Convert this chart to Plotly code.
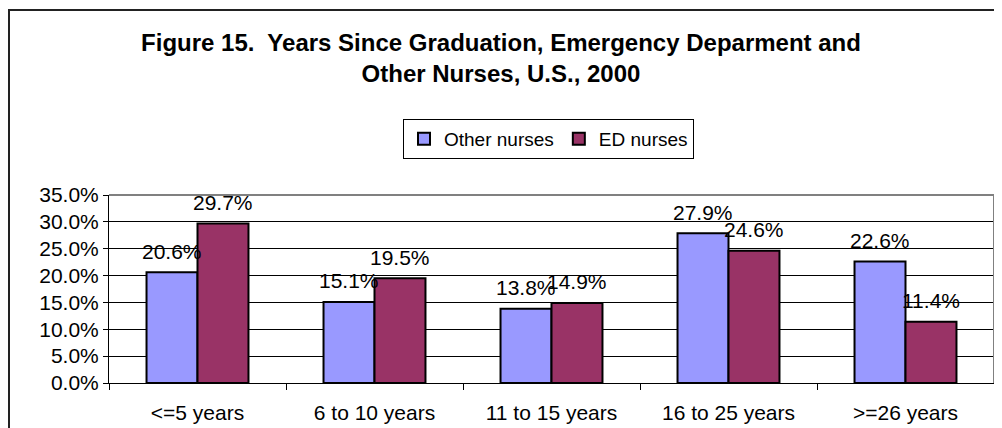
import plotly.graph_objects as go

categories = ["<=5 years", "6 to 10 years", "11 to 15 years", "16 to 25 years", ">=26 years"]
other_nurses = [20.6, 15.1, 13.8, 27.9, 22.6]
ed_nurses = [29.7, 19.5, 14.9, 24.6, 11.4]
y_ticks = [0, 5, 10, 15, 20, 25, 30, 35]

FONT = "Liberation Sans, Arial, sans-serif"
OFF = 8  # page body margin
W, H = 1002 - OFF, 428 - OFF
L, R, T, B = 109 - OFF, 8, 195 - OFF, 45
pw, ph = W - L - R, H - T - B

fig = go.Figure()
fig.add_trace(go.Bar(name="Other nurses", x=categories, y=other_nurses,
                     marker=dict(color="#9999FF", line=dict(color="black", width=2))))
fig.add_trace(go.Bar(name="ED nurses", x=categories, y=ed_nurses,
                     marker=dict(color="#993366", line=dict(color="black", width=2))))

ann = []
for vals, xs in ((other_nurses, -25.5), (ed_nurses, 25.5)):
    for c, v in zip(categories, vals):
        ann.append(dict(x=c, y=v, text=f"{v:.1f}%", showarrow=False, xshift=xs, yshift=21,
                        yanchor="middle", font=dict(family=FONT, size=21, color="black")))

def px_x(p):
    return (p - OFF - L) / pw
def px_y(p):
    return (H - B - (p - OFF)) / ph

shapes = [
    # outer chart border
    dict(type="rect", xref="paper", yref="paper", x0=px_x(9), x1=px_x(1030), y0=px_y(460), y1=px_y(10),
         line=dict(color="#222222", width=2), fillcolor="rgba(0,0,0,0)", layer="below"),
    # plot-area border (top, right)
    dict(type="line", xref="paper", yref="paper", x0=0, x1=1, y0=1, y1=1, line=dict(color="#808080", width=2)),
    dict(type="line", xref="paper", yref="paper", x0=1, x1=1, y0=0, y1=1, line=dict(color="#808080", width=2)),
]

fig.update_layout(
    width=W, height=H, autosize=False,
    margin=dict(l=L, r=R, t=T, b=B, autoexpand=False),
    paper_bgcolor="white", plot_bgcolor="white",
    font=dict(family=FONT, size=21, color="black"),
    title=dict(text="<b>Figure 15.  Years Since Graduation, Emergency Deparment and<br>Other Nurses, U.S., 2000</b>",
               x=(501 - OFF) / W, xanchor="center", y=1 - (51 - OFF) / H, yanchor="middle",
               font=dict(family=FONT, size=24, color="black")),
    barmode="group", bargap=0.424, bargroupgap=0,
    legend=dict(orientation="h", x=px_x(548.5), xanchor="center", y=px_y(119), yanchor="top",
                bordercolor="black", borderwidth=1, font=dict(family=FONT, size=19, color="black"),
                bgcolor="white", itemwidth=30),
    xaxis=dict(showline=True, linecolor="black", linewidth=1, ticks="outside", tickson="boundaries",
               ticklen=6, tickcolor="black", showgrid=False, ticklabelstandoff=11,
               tickfont=dict(family=FONT, size=21, color="black")),
    yaxis=dict(range=[0, 35], tickvals=y_ticks, ticktext=[f"{t:.1f}%" for t in y_ticks],
               showline=True, linecolor="black", linewidth=1, ticks="outside", ticklen=5,
               tickcolor="black", showgrid=True, gridcolor="black", gridwidth=1,
               tickfont=dict(family=FONT, size=21, color="black"), zeroline=False),
    annotations=ann,
    shapes=shapes,
)

fig.write_html("out.html")
